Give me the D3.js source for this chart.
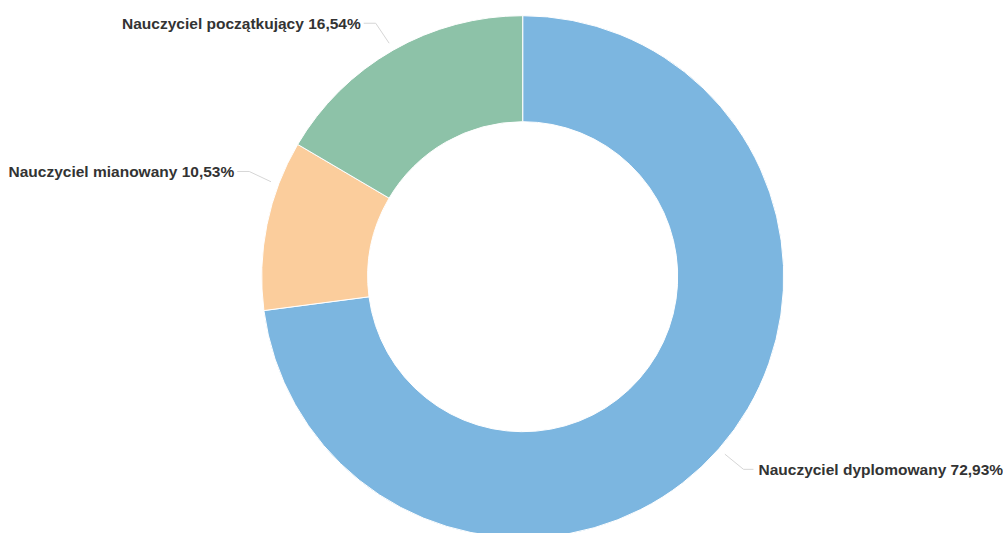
<!DOCTYPE html>
<html>
<head>
<meta charset="utf-8">
<script src="https://cdn.jsdelivr.net/npm/d3@7"></script>
<style>
  html, body { margin: 0; padding: 0; background: #ffffff; }
  svg { display: block; }
</style>
</head>
<body>
<svg id="chart" width="1003" height="533"></svg>
<script>
// ---- data ----
const categories = ["Nauczyciel dyplomowany", "Nauczyciel mianowany", "Nauczyciel początkujący"];
const values = [72.93, 10.53, 16.54];
const valueLabels = ["72,93%", "10,53%", "16,54%"];
const colors = ["#7cb6e0", "#fbcd9c", "#8dc2a8"];

// ---- layout ----
const W = 1003, H = 533;
const cx = 522.7, cy = 276.7;
const outerR = 261, innerR = 155;
const labelR = 292, bendR = 293, anchorR = 269;
// manual label nudges (in px) to mimic the reference layout
const labelNudgeY = [0, -47, 0];
const anchorAngleShift = [0, 0.16, 0];

const svg = d3.select("#chart");
const g = svg.append("g").attr("transform", `translate(${cx},${cy})`);

const data = categories.map((c, i) => ({ name: c, value: values[i], label: valueLabels[i], color: colors[i], i }));

const pie = d3.pie().value(d => d.value).sort(null).startAngle(0).endAngle(2 * Math.PI);
const arcs = pie(data);
const arc = d3.arc().innerRadius(innerR).outerRadius(outerR);

g.selectAll("path.slice")
  .data(arcs)
  .join("path")
  .attr("class", "slice")
  .attr("d", arc)
  .attr("fill", d => d.data.color)
  .attr("stroke", "#ffffff")
  .attr("stroke-width", 1)
  .attr("stroke-linejoin", "round");

// labels
const labels = arcs.map(a => {
  const i = a.data.i;
  const mid = (a.startAngle + a.endAngle) / 2;
  const right = Math.sin(mid) >= 0;
  const y = -labelR * Math.cos(mid) + labelNudgeY[i];
  const bx = (right ? 1 : -1) * Math.sqrt(Math.max(0, bendR * bendR - y * y));
  const aa = mid + anchorAngleShift[i];
  const ax = anchorR * Math.sin(aa), ay = -anchorR * Math.cos(aa);
  return { a, right, y, bx, ax, ay, text: a.data.name + " " + a.data.label };
});

g.selectAll("path.connector")
  .data(labels)
  .join("path")
  .attr("class", "connector")
  .attr("fill", "none")
  .attr("stroke", "#d6d6d6")
  .attr("stroke-width", 1)
  .attr("d", d => {
    const sx = d.bx + (d.right ? 10 : -12);
    return `M${sx},${d.y}L${d.bx},${d.y}L${d.ax},${d.ay}`;
  });

g.selectAll("text.lbl")
  .data(labels)
  .join("text")
  .attr("class", "lbl")
  .attr("x", d => d.bx + (d.right ? 15 : -15))
  .attr("y", d => d.y)
  .attr("dy", "0.35em")
  .attr("text-anchor", d => d.right ? "start" : "end")
  .attr("font-family", "'Liberation Sans', Arial, sans-serif")
  .attr("font-size", "15.5px")
  .attr("font-weight", "bold")
  .attr("fill", "#333333")
  .attr("stroke", "#ffffff")
  .attr("stroke-width", 2)
  .attr("stroke-linejoin", "round")
  .attr("paint-order", "stroke")
  .text(d => d.text);
</script>
</body>
</html>
